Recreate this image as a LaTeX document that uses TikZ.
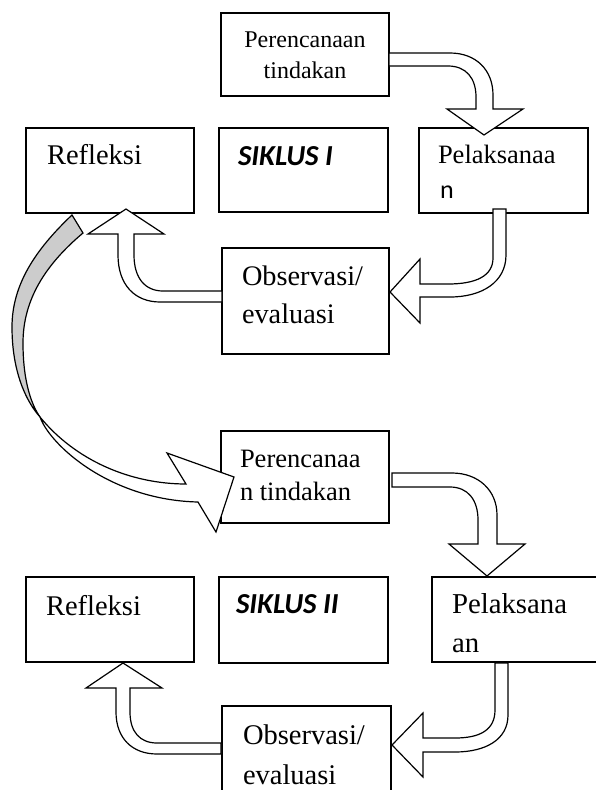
\documentclass[tikz,border=0pt]{standalone}
\usepackage{fontspec}
\setmainfont{Liberation Serif}
\newfontfamily\calibri{Carlito}
\tikzset{
  box/.style={draw, line width=1.6pt, inner sep=0pt, outer sep=0pt, fill=white},
  blockarrow/.style={draw, fill=white, line width=1.2pt, line join=miter},
  bandback/.style={draw, fill=black!20, line width=1.2pt, line join=miter},
  lbl/.style={anchor=base west, inner sep=0pt, outer sep=0pt},
}
\begin{document}
\begin{tikzpicture}[x=1pt,y=-1pt]
\useasboundingbox (0,0) rectangle (596,790);
\clip (0,0) rectangle (596,790);

% ---------- boxes ----------
\node[box, minimum width=168pt, minimum height=83pt]  (plan1) at (305,54.5) {};
\node[box, minimum width=169pt, minimum height=84pt]  (sik1)  at (303.5,170) {};
\node[box, minimum width=169pt, minimum height=85pt]  (pel1)  at (503.5,170.5) {};
\node[box, minimum width=168pt, minimum height=85pt]  (ref1)  at (110,170.5) {};
\node[box, minimum width=167pt, minimum height=106pt] (obs1)  at (305.5,301) {};
\node[box, minimum width=168pt, minimum height=92pt]  (plan2) at (305,477) {};
\node[box, minimum width=168pt, minimum height=85pt]  (ref2)  at (110,619.5) {};
\node[box, minimum width=169pt, minimum height=86pt]  (sik2)  at (303.5,620) {};
\node[box, minimum width=168pt, minimum height=85pt]  (pel2)  at (516,619.5) {};
\node[box, minimum width=169pt, minimum height=94pt]  (obs2)  at (306.5,753) {};

% ---------- texts ----------
\node[anchor=base, inner sep=0pt] (t1a) at (305,47) {\fontsize{24}{28}\selectfont Perencanaan};
\node[anchor=base, inner sep=0pt] (t1b) at (305,78) {\fontsize{24}{28}\selectfont tindakan};
\node[lbl] (t2)  at (47,164)  {\fontsize{28.5}{34}\selectfont Refleksi};
\node[lbl] (t3)  at (238,165) {\calibri\fontsize{29}{34}\selectfont\bfseries\itshape SIKLUS I};
\node[lbl] (t4a) at (438,163) {\fontsize{26.5}{32}\selectfont Pelaksanaa};
\node[lbl] (t4b) at (440,198) {\calibri\fontsize{26}{32}\selectfont n};
\node[lbl] (t5a) at (242,285) {\fontsize{28.3}{34}\selectfont Observasi/};
\node[lbl] (t5b) at (242,323) {\fontsize{28.3}{34}\selectfont evaluasi};
\node[lbl] (t6a) at (240,467) {\fontsize{26.5}{32}\selectfont Perencanaa};
\node[lbl] (t6b) at (240,500) {\fontsize{26.5}{32}\selectfont n tindakan};
\node[lbl] (t7)  at (46,615)  {\fontsize{28.5}{34}\selectfont Refleksi};
\node[lbl] (t8)  at (236,613) {\calibri\fontsize{29}{34}\selectfont\bfseries\itshape SIKLUS II};
\node[lbl] (t9a) at (452,613) {\fontsize{28.8}{34}\selectfont Pelaksana};
\node[lbl] (t9b) at (452,652) {\fontsize{28.8}{34}\selectfont an};
\node[lbl] (t10a) at (243,744) {\fontsize{28.5}{34}\selectfont Observasi/};
\node[lbl] (t10b) at (243,784) {\fontsize{28.5}{34}\selectfont evaluasi};

% ---------- block arrows, cycle I ----------
% Perencanaan -> Pelaksanaan
\path[blockarrow] (389,53) -- (450,53) .. controls (476,53) and (493,70) .. (493,95)
  -- (493,109) -- (523,109) -- (484,135) -- (447,109) -- (476,109) -- (476,97)
  .. controls (476,78) and (466,66) .. (448,66) -- (389,66) -- cycle;
% Pelaksanaan -> Observasi
\path[blockarrow] (493,209) -- (506,209) -- (506,255) .. controls (506,282) and (482,297) .. (450,297)
  -- (420,297) -- (420,323) -- (390,292) -- (420,259) -- (420,284) -- (448,284)
  .. controls (476,284) and (493,276) .. (493,258) -- cycle;
% Observasi -> Refleksi
\path[blockarrow] (222,302) -- (160,302) .. controls (135,302) and (118,285) .. (118,255)
  -- (118,234) -- (88,234) -- (126,209) -- (164,234) -- (134,234) -- (134,255)
  .. controls (134,278) and (145,291) .. (163,291) -- (222,291) -- cycle;

% ---------- curved arrow Refleksi -> Perencanaan (cycle II) ----------
\path[bandback] (72,215) .. controls (35,250) and (12,285) .. (12,327)
  .. controls (12,370) and (25,400) .. (40,417)
  .. controls (33,407) and (23,385) .. (23,343)
  .. controls (23,300) and (45,265) .. (83,233) -- cycle;
\path[blockarrow] (40,417) .. controls (75,460) and (130,484) .. (186,484)
  -- (167,453) -- (234,477) -- (216,532) -- (198,502)
  .. controls (110,500) and (50,445) .. (40,417) -- cycle;

% ---------- block arrows, cycle II ----------
% Perencanaan -> Pelaksanaan
\path[blockarrow] (392,473) -- (452,473) .. controls (478,473) and (497,490) .. (497,515)
  -- (497,544) -- (525,544) -- (487,576) -- (449,544) -- (478,544) -- (478,520)
  .. controls (478,500) and (468,487) .. (450,487) -- (392,487) -- cycle;
% Pelaksanaan -> Observasi
\path[blockarrow] (495,663) -- (508,663) -- (508,715) .. controls (508,740) and (485,752) .. (455,752)
  -- (423,752) -- (423,777) -- (392,745) -- (423,713) -- (423,738) -- (455,738)
  .. controls (480,738) and (495,730) .. (495,710) -- cycle;
% Observasi -> Refleksi
\path[blockarrow] (221,754) -- (157,754) .. controls (132,754) and (116,738) .. (116,712)
  -- (116,688) -- (86,688) -- (123,663) -- (162,688) -- (130,688) -- (130,712)
  .. controls (130,732) and (140,743) .. (157,743) -- (221,743) -- cycle;
\end{tikzpicture}
\end{document}
